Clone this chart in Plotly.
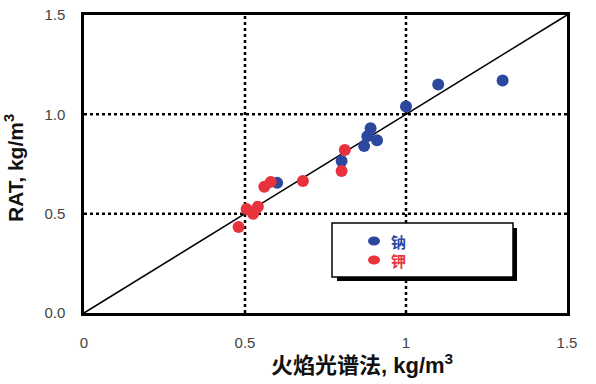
import plotly.graph_objects as go

# Data (x: 火焰光谱法, y: RAT, kg/m3)
na_x = [1.00, 1.10, 1.30, 0.89, 0.88, 0.91, 0.87, 0.80, 0.60]
na_y = [1.04, 1.15, 1.17, 0.93, 0.89, 0.87, 0.84, 0.765, 0.655]
k_x = [0.81, 0.80, 0.68, 0.58, 0.56, 0.505, 0.54, 0.525, 0.48]
k_y = [0.82, 0.715, 0.665, 0.66, 0.635, 0.523, 0.535, 0.50, 0.433]
ref_line = [0, 1.5]
x_ticks = [0, 0.5, 1, 1.5]
x_tick_labels = ["0", "0.5", "1", "1.5"]
y_ticks = [0, 0.5, 1.0, 1.5]
y_tick_labels = ["0.0", "0.5", "1.0", "1.5"]
series_names = ["钠", "钾"]

BLUE = "#2b489e"
RED = "#e8323c"

W, H = 596, 384
PL, PR, PT, PB = 84, 567, 15, 313  # plot area in page pixels
L, T = PL, PT
R, B = W - PR, H - PB
pw, ph = PR - PL, PB - PT


def px(x):
    return (x - PL) / pw


def py(y):
    return (PB - y) / ph


fig = go.Figure()

# gridlines (dotted) as shapes
for gx in [0.5, 1.0]:
    fig.add_shape(type="line", xref="x", yref="paper", x0=gx, x1=gx, y0=0, y1=1,
                  line=dict(color="black", width=2.5, dash="dot"), layer="below")
for gy in [0.5, 1.0]:
    fig.add_shape(type="line", xref="paper", yref="y", x0=0, x1=1, y0=gy, y1=gy,
                  line=dict(color="black", width=2.5, dash="3px,3px"), layer="below")

fig.add_trace(go.Scatter(x=ref_line, y=ref_line, mode="lines",
                         line=dict(color="black", width=1.6), showlegend=False,
                         hoverinfo="skip"))
fig.add_trace(go.Scatter(x=na_x, y=na_y, mode="markers", name=series_names[0],
                         marker=dict(color=BLUE, size=12), showlegend=False))
fig.add_trace(go.Scatter(x=k_x, y=k_y, mode="markers", name=series_names[1],
                         marker=dict(color=RED, size=12), showlegend=False))

# legend box with shadow
fig.add_shape(type="rect", xref="paper", yref="paper",
              x0=px(337), x1=px(517), y0=py(281), y1=py(228),
              fillcolor="black", line=dict(width=0))
fig.add_shape(type="rect", xref="paper", yref="paper",
              x0=px(332), x1=px(513), y0=py(277), y1=py(223),
              fillcolor="white", line=dict(color="black", width=1.5))
for cy, col, name in [(241, BLUE, series_names[0]), (260, RED, series_names[1])]:
    fig.add_shape(type="circle", xref="paper", yref="paper",
                  x0=px(368), x1=px(380), y0=py(cy + 4.5), y1=py(cy - 4.5),
                  fillcolor=col, line=dict(width=0))
    fig.add_annotation(xref="paper", yref="paper", x=px(389), y=py(cy),
                       text="<b>" + name + "</b>", showarrow=False,
                       xanchor="left", yanchor="middle",
                       font=dict(color=col, size=15, family="Noto Sans CJK SC"))

# axis titles
fig.add_annotation(xref="paper", yref="paper", x=px(362), y=py(364),
                   text="<b>火焰光谱法</b><b>, kg/m<sup>3</sup></b>", showarrow=False,
                   xanchor="center", yanchor="middle",
                   font=dict(size=22, color="#111", family="Liberation Sans, Noto Sans CJK SC"))
fig.add_annotation(xref="paper", yref="paper", x=px(14), y=py(168),
                   text="<b>RAT, kg/m<sup>3</sup></b>", showarrow=False, textangle=-90,
                   xanchor="center", yanchor="middle",
                   font=dict(size=21, color="#111", family="Liberation Sans"))

axis_common = dict(showgrid=False, zeroline=False, showline=True, linecolor="black",
                   linewidth=2.5, mirror=True, ticks="", ticklabeloverflow="allow",
                   tickfont=dict(size=15, color="#444", family="Liberation Sans"))

fig.update_layout(
    width=W, height=H,
    margin=dict(l=L, r=R, t=T, b=B, autoexpand=False),
    plot_bgcolor="white", paper_bgcolor="white",
    xaxis=dict(range=[0, 1.5], tickvals=x_ticks, ticktext=x_tick_labels,
               ticklabelstandoff=14, **axis_common),
    yaxis=dict(range=[0, 1.5], tickvals=y_ticks, ticktext=y_tick_labels,
               ticklabelstandoff=13, **axis_common),
    showlegend=False,
)

fig.write_html("out.html", config={"displayModeBar": False},
               post_script="document.body.style.margin='0';")
